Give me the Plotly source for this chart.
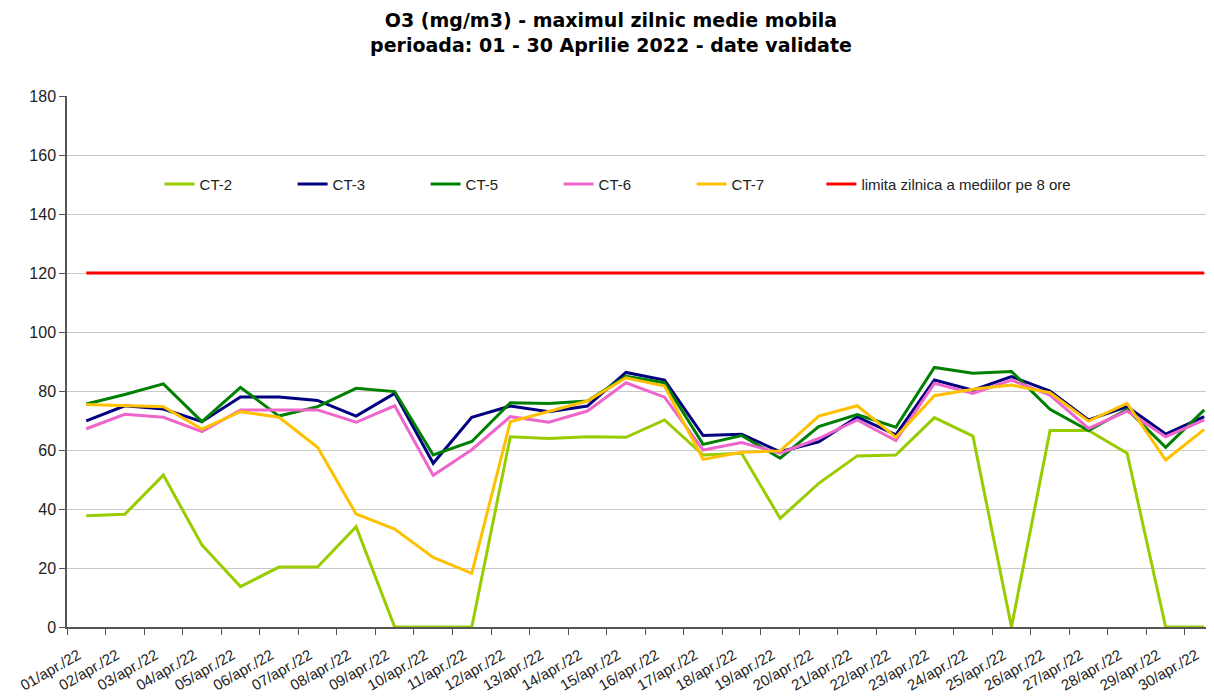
import plotly.graph_objects as go

days = [f"{d:02d}/apr./22" for d in range(1, 31)]

ct2 = [37.7, 38.2, 51.5, 27.8, 13.7, 20.3, 20.3, 34.0, 0, 0,
       0, 64.5, 63.9, 64.5, 64.3, 70.2, 58.3, 58.9, 36.8, 48.7,
       58.0, 58.3, 71.0, 64.7, 0, 66.6, 66.6, 58.9, 0, 0]
ct3 = [69.9, 75.0, 73.9, 69.6, 78.0, 78.0, 76.8, 71.5, 79.2, 55.5,
       71.1, 74.9, 73.0, 74.9, 86.3, 83.7, 64.9, 65.3, 59.4, 62.8,
       71.2, 65.1, 83.7, 80.3, 84.9, 80.0, 70.2, 74.7, 65.4, 71.3]
ct5 = [75.6, 78.8, 82.4, 69.6, 81.2, 71.5, 74.7, 80.9, 79.8, 58.3,
       62.9, 76.0, 75.8, 76.6, 85.0, 82.8, 61.9, 64.9, 57.2, 67.9,
       72.0, 67.7, 88.0, 86.0, 86.6, 73.8, 66.6, 73.8, 60.9, 73.6]
ct6 = [67.2, 72.1, 71.1, 66.2, 73.6, 73.6, 73.6, 69.4, 75.0, 51.4,
       60.1, 71.3, 69.4, 73.2, 82.8, 77.9, 60.0, 62.5, 58.9, 63.9,
       70.2, 63.2, 82.6, 79.2, 83.7, 78.6, 67.3, 73.2, 64.5, 70.2]
ct7 = [75.4, 75.0, 74.7, 67.1, 73.0, 71.1, 60.9, 38.3, 33.2, 23.6,
       18.2, 69.6, 73.0, 76.6, 84.5, 81.7, 56.8, 59.2, 59.7, 71.5,
       75.0, 64.3, 78.4, 80.6, 82.0, 79.4, 69.8, 75.8, 56.6, 67.0]
limit = [120] * 30

series = [
    ("CT-2", ct2, "#99CC00", "legend"),
    ("CT-3", ct3, "#000080", "legend"),
    ("CT-5", ct5, "#008000", "legend"),
    ("CT-6", ct6, "#EE66CC", "legend"),
    ("CT-7", ct7, "#FFC000", "legend"),
    ("limita zilnica a mediilor pe 8 ore", limit, "#FF0000", "legend2"),
]

fig = go.Figure()
for name, vals, col, lg in series:
    fig.add_trace(go.Scatter(x=days, y=vals, name=name, mode="lines",
                             legend=lg, line=dict(color=col, width=3)))

legend_font = dict(size=15, family="Liberation Sans, Arial", color="#222222")

fig.update_layout(
    width=1206, height=690,
    paper_bgcolor="white", plot_bgcolor="white",
    margin=dict(l=59, r=4, t=88, b=71, autoexpand=False),
    title=dict(
        text="O3 (mg/m3) - maximul zilnic medie mobila<br>perioada: 01 - 30 Aprilie 2022 - date validate",
        x=0.5, xref="container", xanchor="center",
        y=1 - 19 / 690, yref="container", yanchor="middle",
        font=dict(family="DejaVu Sans", size=19, color="black", weight="bold"),
    ),
    font=dict(family="Liberation Sans, Arial", color="#222222"),
    showlegend=True,
    legend=dict(orientation="h", x=0.081, xref="paper", y=0.834, yanchor="middle",
                xanchor="left", entrywidth=88, entrywidthmode="pixels",
                font=legend_font, bgcolor="rgba(0,0,0,0)", itemwidth=30),
    legend2=dict(orientation="h", x=0.66, xref="paper", y=0.834, yanchor="middle",
                 xanchor="left", font=legend_font, bgcolor="rgba(0,0,0,0)",
                 itemwidth=30),
)

fig.update_xaxes(
    type="category", range=[-0.5, 29.15], automargin=False,
    tickangle=-30, tickson="boundaries", ticklabelstandoff=12, ticklabelshift=-8,
    ticks="outside", ticklen=6, tickcolor="#555555",
    showline=True, linecolor="#555555", linewidth=1.5,
    showgrid=False, tickfont=dict(size=15, color="#222222"),
)
fig.update_yaxes(
    range=[0, 180], dtick=20, automargin=False,
    ticks="outside", ticklen=6, tickcolor="#555555",
    showline=True, linecolor="#555555", linewidth=1.5,
    showgrid=True, gridcolor="#C8C8C8", gridwidth=1,
    zeroline=False, tickfont=dict(size=16, color="#222222"),
)

fig.write_html("out.html")
